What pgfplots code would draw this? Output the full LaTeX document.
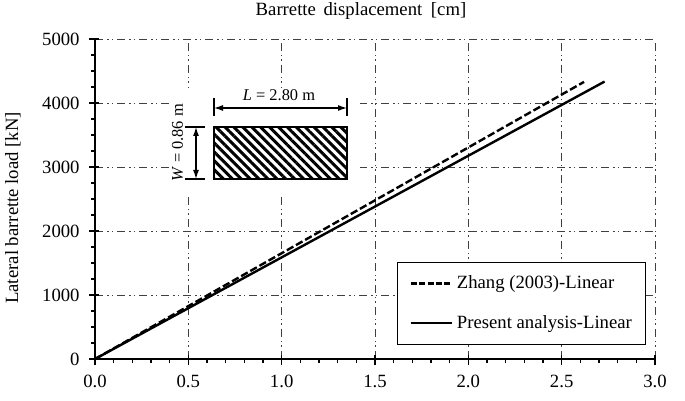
\documentclass[border=0pt]{standalone}
\usepackage{fontspec}
\setmainfont{Liberation Serif}
\usepackage{pgfplots}
\pgfplotsset{compat=1.18}
\usetikzlibrary{patterns.meta,arrows.meta}

\pgfplotstableread{
x y
0 0
2.62 4330
}\zhang
\pgfplotstableread{
x y
0 0
2.73 4335
}\present

\begin{document}
\fontsize{18.7}{22}\selectfont
\begin{tikzpicture}[x=1pt,y=1pt]
\useasboundingbox (0,0) rectangle (685,401);
\begin{axis}[
    at={(95pt,42pt)},
    anchor=origin,
    scale only axis,
    width=560pt,
    height=320pt,
    xmin=0, xmax=3,
    ymin=0, ymax=5000,
    axis lines=left,
    axis line style={line width=2pt,-},
    xtick={0,0.5,1,1.5,2,2.5,3},
    ytick={0,1000,2000,3000,4000,5000},
    minor x tick num=4,
    minor y tick num=3,
    tick align=center,
    major tick length=10pt,
    minor tick length=4pt,
    tick style={line width=1.6pt,black},
    every minor x tick/.append style={yshift=-2pt},
    every minor y tick/.append style={xshift=-2pt},
    every major x tick/.append style={yshift=-1pt},
    every major y tick/.append style={xshift=-1pt},
    xticklabel style={yshift=-5pt,/pgf/number format/.cd,fixed,fixed zerofill,precision=1,assume math mode=true},
    yticklabel style={xshift=-4pt,/pgf/number format/.cd,fixed,assume math mode=true,1000 sep={}},
    tick label style={font=\fontsize{18.7}{22}\selectfont},
    xmajorgrids, ymajorgrids,
    major grid style={line width=0.9pt,black!75,dash pattern=on 8pt off 4pt on 1.5pt off 3pt on 1.5pt off 4pt},
    title={Barrette\hspace{3pt} displacement\hspace{4pt} [cm]},
    title style={at={(0.475,1.075)},anchor=base,yshift=-7pt,font=\fontsize{18.7}{22}\selectfont},
    ylabel={Lateral barrette load [kN]},
    ylabel style={at={(axis description cs:-0.1375,0.472)},anchor=base,font=\fontsize{18.7}{22}\selectfont},
    legend cell align=left,
    legend style={
        at={(0.5393,0.303)},anchor=north west,
        draw=black,line width=1pt,fill=white,
        font=\fontsize{18.7}{22}\selectfont,
        inner xsep=12pt,inner ysep=11pt,
        row sep=20pt,
        column sep=2pt,
    },
    legend image code/.code={
        \draw[#1,line cap=butt] (0pt,0pt) -- (41pt,0pt);
    },
]
\addplot[black,line width=2.4pt,dash pattern=on 7.5pt off 3pt,legend image post style={dash pattern=on 6pt off 2.4pt}] table[x=x,y=y] {\zhang};
\addlegendentry{Zhang (2003)-Linear}
\addplot[black,line width=2.4pt] table[x=x,y=y] {\present};
\addlegendentry{Present analysis-Linear}
\end{axis}
% inset section of the barrette
\begin{scope}[shift={(0,401)},y=-1pt,font=\fontsize{16.4}{20}\selectfont]
\fill[white] (170,88) rectangle (360,197);
\path[pattern={Lines[angle=-45,distance=6.3pt,line width=3pt]}] (214,127) rectangle (347,179);
\draw[line width=1.6pt] (214,127) rectangle (347,179);
\draw[line width=1.2pt] (214,98) -- (214,116) (347,98) -- (347,116);
\draw[line width=1.2pt,{Latex[length=9pt,width=6pt]}-{Latex[length=9pt,width=6pt]}] (214,108) -- (347,108);
\node at (279,95) {\textit{L} = 2.80 m};
\draw[line width=1.2pt] (185,127) -- (205,127) (185,179) -- (205,179);
\draw[line width=1.2pt,{Latex[length=9pt,width=6pt]}-{Latex[length=9pt,width=6pt]}] (196,127) -- (196,179);
\node[rotate=90] at (177.5,143) {\textit{W} = 0.86 m};
\end{scope}
\end{tikzpicture}
\end{document}
